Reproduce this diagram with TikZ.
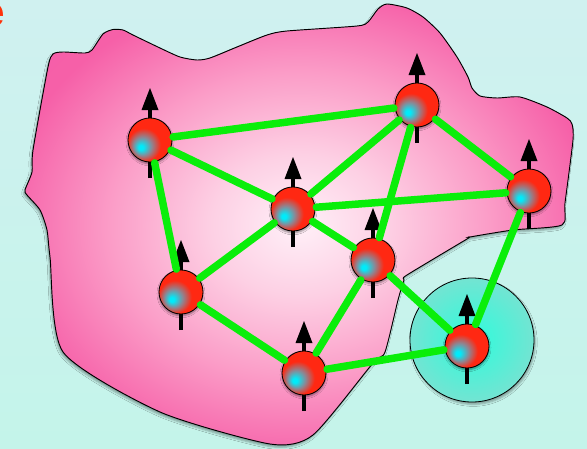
\documentclass[tikz,border=0pt]{standalone}
\usepackage{fontspec}
\setsansfont{Liberation Sans}
\usepackage{tikz}
\usetikzlibrary{
  positioning,
  calc,
  shadows.blur
}
\definecolor{bgtop}{RGB}{208,241,240}
\definecolor{bgbot}{RGB}{196,244,234}
\definecolor{spincyan}{RGB}{0,235,250}
\definecolor{spingray}{RGB}{140,135,148}
\definecolor{spinred}{RGB}{255,40,18}
\definecolor{blobcore}{RGB}{255,240,248}
\definecolor{blobsoft}{RGB}{253,208,228}
\definecolor{blobmid}{RGB}{251,158,200}
\definecolor{blobedge}{RGB}{246,96,168}
\definecolor{halocore}{RGB}{45,252,220}
\definecolor{haloedge}{RGB}{115,228,210}
\definecolor{bondgreen}{RGB}{10,238,10}
\definecolor{titlered}{RGB}{255,50,10}

% ball with the cyan spot low on the left
\pgfdeclareradialshading{spinball}{\pgfpoint{-11bp}{-9bp}}{%
  color(0bp)=(spincyan); color(2.5bp)=(spincyan); color(10.5bp)=(spingray);
  color(19bp)=(spinred); color(36bp)=(spinred); color(44bp)=(spinred!80!black);
  color(50bp)=(spinred!80!black)}
\pgfdeclareradialshading{blobglow}{\pgfpoint{0bp}{0bp}}{%
  color(0bp)=(blobcore); color(8bp)=(blobsoft); color(17bp)=(blobmid);
  color(27bp)=(blobedge); color(50bp)=(blobedge!92!magenta)}

\tikzset{
  spin/.style={circle, draw=black, line width=0.7pt, minimum size=1.32cm,
    inner sep=0pt, shade, shading=spinball,
    blur shadow={shadow xshift=0pt, shadow yshift=-1.5pt, shadow opacity=45,
      shadow blur steps=6}},
  spinshaft/.style={line width=3.4pt},
  bond/.style={draw=bondgreen, line width=6.4pt, line cap=round,
    shorten >=0.7cm, shorten <=0.7cm},
  halo/.style={circle, draw=black, line width=0.7pt, minimum size=3.72cm,
    inner sep=0pt, inner color=halocore, outer color=haloedge,
    blur shadow={shadow xshift=1pt, shadow yshift=-2pt, shadow opacity=35}}
}

\begin{document}
\begin{tikzpicture}[x=0.03cm, y=-0.03cm]
  \useasboundingbox (0,0) rectangle (587,449);
  \clip (0,0) rectangle (587,449);
  \shade[top color=bgtop, bottom color=bgbot] (0,0) rectangle (587,449);

  % title letter cut by the frame
  \node[font=\fontsize{36}{36}\selectfont\sffamily\bfseries, text=titlered,
    inner sep=0pt, anchor=base east] (title) at (5.5,26.5) {e};

  % the pink region
  \draw[line width=0.8pt, shade, shading=blobglow,
    blur shadow={shadow xshift=-1pt, shadow yshift=-2pt, shadow opacity=35}]
    plot[smooth cycle, tension=0.4] coordinates{
      (48,67)(53,54)(63,52)(85,53)(92,50)(103,34)(113,29.5)(123,30)(133,35)
      (160,48)(180,57)(197,60)(210,58)(237,47)(267,35)(287,31)(357,26)(368,22)
      (378,9)(387,4)(407,8)(423,17)(440,33)(457,57)(468,77)(472,88)(480,96)
      (497,98)(520,97)(547,107)(567,118)(572,124)(573,140)(565,203)(562,225)
      (513,230)(470,237)(467,239)(407,275)(404,280)(398,300)(385,352)(373,363)
      (313,435)(270,444)(160,412)(63,352)(50,257)(47,230)(40,210)(27,195)
      (25,190)(32,172)(33,150)};

  % glow round the last spin
  \node[halo] (glow) at (472,340) {};

  % spin sites with their up arrows
  \foreach \x/\y [count=\i] in {150/140, 417/105, 293/209, 529/191,
                                373/260, 181/292, 304/373, 467/346}
    \coordinate (p\i) at (\x,\y);
  \foreach \i in {1,...,8} {
    \draw[spinshaft] ($(p\i)+(0,38)$) -- ($(p\i)+(0,-31)$);
    \fill ($(p\i)+(-8.5,-30)$) -- ($(p\i)+(0,-52)$) -- ($(p\i)+(8.5,-30)$) -- cycle;
  }
  \foreach \i in {1,...,8}
    \node[spin] (s\i) at (p\i) {};

  % bonds
  \foreach \a/\b in {1/2, 1/3, 1/6, 2/3, 2/5, 2/4, 3/4, 3/6, 3/5,
                     5/7, 5/8, 6/7, 7/8, 4/8}
    \draw[bond] (s\a.center) -- (s\b.center);
\end{tikzpicture}
\end{document}
